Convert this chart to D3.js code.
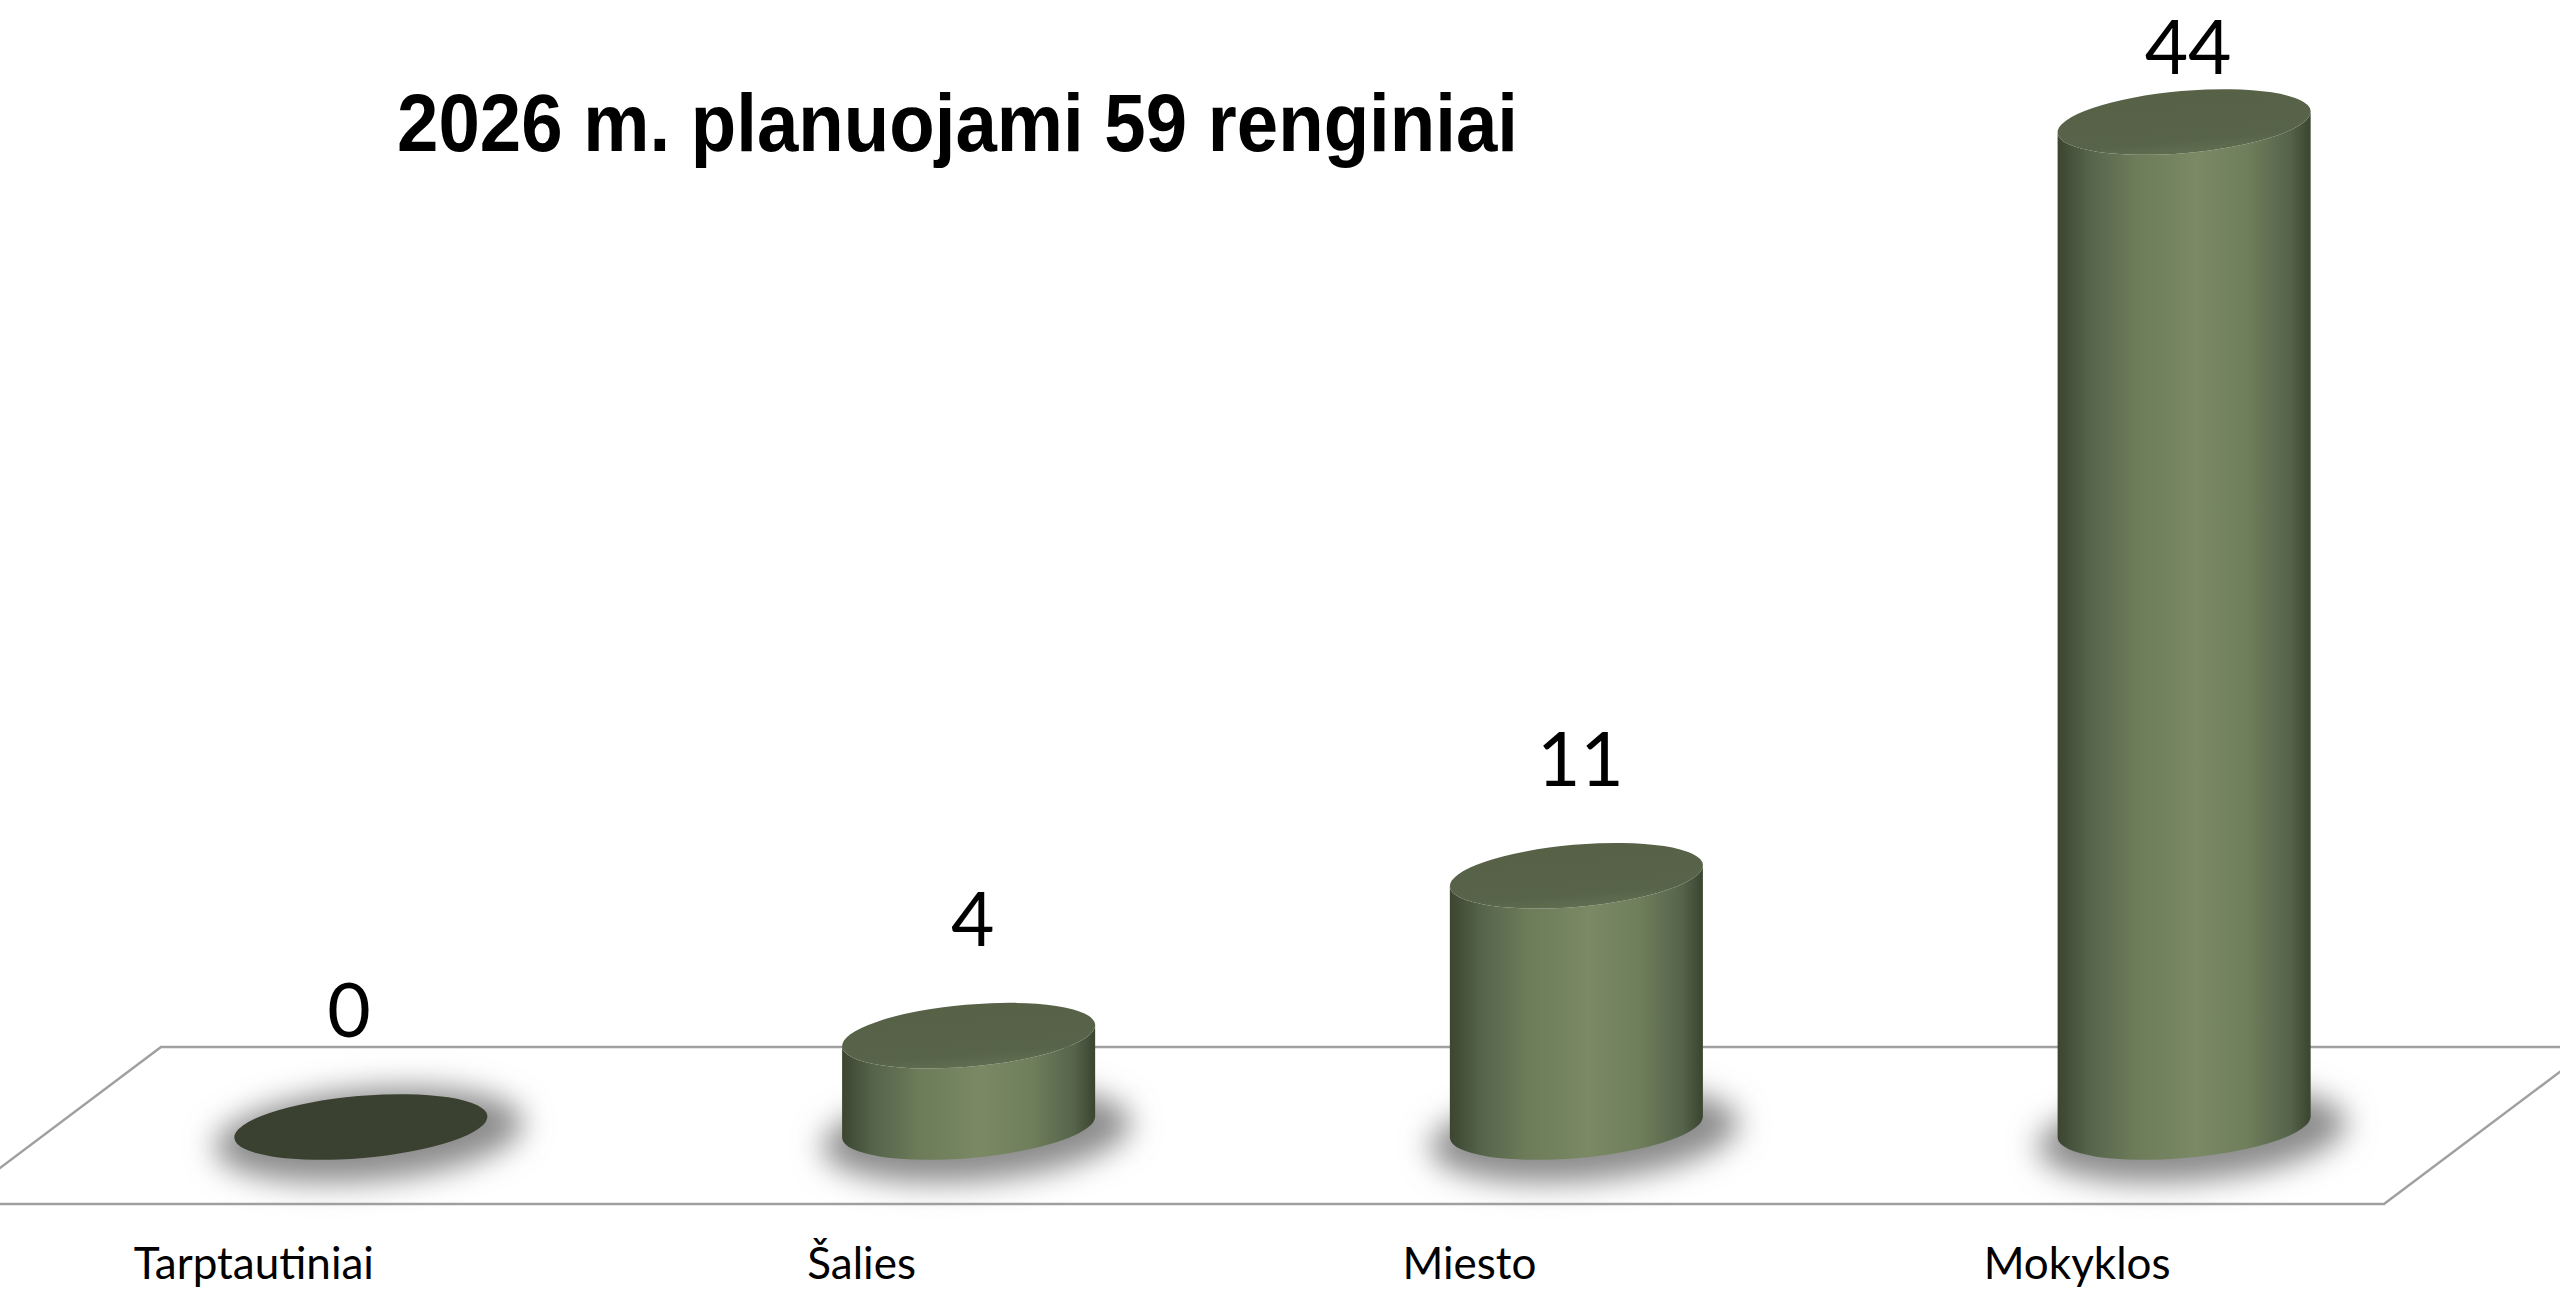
<html>
<head>
<title>2026 m. planuojami renginiai</title>
<script type="text/javascript" src="https://d3js.org/d3.v7.min.js"></script>
<style>
  body { margin: 0; background: #fff; }
</style>
</head>
<body>
<script type="text/javascript">
  var width = 2560;
  var height = 1291;

  var categories = ["Tarptautiniai", "Šalies", "Miesto", "Mokyklos"];
  var values = [0, 4, 11, 44];
  var title = "2026 m. planuojami 59 renginiai";

  var xScale = d3.scalePoint()
                 .domain(categories)
                 .range([57, 2488])
                 .padding(0.5);
  var yScale = d3.scaleLinear()
                 .domain([0, 44])
                 .range([1127, 122]);

  var rx = 127, ry = 31, tilt = -5;
  var rad = tilt * Math.PI / 180;

  var svg = d3.select("body")
              .append("svg")
              .attr("width", width)
              .attr("height", height)
              .style("background-color", "#ffffff");

  var defs = svg.append("defs");
  var sideGrad = defs.append("linearGradient")
                 .attr("id", "side")
                 .attr("x1", 0).attr("x2", 1).attr("y1", 0).attr("y2", 0);
  [[0, "#3b4530"], [0.12, "#55634a"], [0.3, "#6c7b58"], [0.55, "#7b8a65"],
   [0.75, "#6f7e5b"], [0.92, "#55634a"], [1, "#3a442f"]].forEach(function(s){
    sideGrad.append("stop").attr("offset", s[0]).attr("stop-color", s[1]);
  });
  var topGrad = defs.append("linearGradient")
                .attr("id", "top")
                .attr("x1", 0).attr("x2", 0).attr("y1", 0).attr("y2", 1);
  topGrad.append("stop").attr("offset", 0).attr("stop-color", "#566146");
  topGrad.append("stop").attr("offset", 0.8).attr("stop-color", "#58644a");
  topGrad.append("stop").attr("offset", 1).attr("stop-color", "#606d50");
  defs.append("filter")
      .attr("id", "blur")
      .attr("x", "-50%").attr("y", "-100%").attr("width", "200%").attr("height", "300%")
      .append("feGaussianBlur").attr("stdDeviation", 15);

  // floor
  var base = yScale(0);
  var backY = 1047, frontY = 1204, slant = 209;
  svg.append("polygon")
     .attr("points", [[161, backY], [2384 + slant, backY], [2384, frontY], [161 - slant, frontY]].join(" "))
     .attr("fill", "#ffffff")
     .attr("stroke", "#a0a0a0")
     .attr("stroke-width", 2.5);

  // category labels
  svg.append("g").selectAll("text")
     .data(categories)
     .enter().append("text")
     .attr("x", function(d){ return xScale(d) - 107; })
     .attr("y", 1279)
     .attr("text-anchor", "middle")
     .style("font-family", "Lato, 'Open Sans', sans-serif")
     .style("font-size", "44px")
     .style("fill", "#000")
     .text(function(d){ return d; });

  var data = categories.map(function(c, i){ return {cat: c, value: values[i]}; });

  // shadows
  svg.append("g").selectAll("ellipse")
     .data(data)
     .enter().append("ellipse")
     .attr("cx", function(d){ return xScale(d.cat) + 8; })
     .attr("cy", base + 8)
     .attr("rx", rx + 28)
     .attr("ry", ry + 15)
     .attr("transform", function(d){ return "rotate(" + tilt + "," + (xScale(d.cat) + 8) + "," + (base + 8) + ")"; })
     .attr("fill", "#8c8c8c")
     .attr("filter", "url(#blur)");

  var dx = rx * Math.cos(rad), dy = rx * Math.sin(rad);

  // cylinder sides
  svg.append("g").selectAll("path")
     .data(data.filter(function(d){ return d.value > 0; }))
     .enter().append("path")
     .attr("d", function(d){
       var cx = xScale(d.cat), yt = yScale(d.value);
       return "M" + (cx - dx) + "," + (yt - dy) +
              "L" + (cx - dx) + "," + (base - dy) +
              "A" + rx + "," + ry + " " + tilt + " 0 0 " + (cx + dx) + "," + (base + dy) +
              "L" + (cx + dx) + "," + (yt + dy) +
              "A" + rx + "," + ry + " " + tilt + " 0 1 " + (cx - dx) + "," + (yt - dy) + "Z";
     })
     .attr("fill", "url(#side)");

  // cylinder tops
  svg.append("g").selectAll("ellipse")
     .data(data)
     .enter().append("ellipse")
     .attr("cx", function(d){ return xScale(d.cat); })
     .attr("cy", function(d){ return yScale(d.value); })
     .attr("rx", rx)
     .attr("ry", ry)
     .attr("transform", function(d){ return "rotate(" + tilt + "," + xScale(d.cat) + "," + yScale(d.value) + ")"; })
     .attr("fill", function(d){ return d.value > 0 ? "url(#top)" : "#3a4130"; });

  // value labels
  svg.append("g").selectAll("text")
     .data(data)
     .enter().append("text")
     .attr("x", function(d, i){ return xScale(d.cat) + (i === 0 ? -12 : 4); })
     .attr("y", function(d){ return Math.max(74, yScale(d.value) - 90); })
     .attr("text-anchor", "middle")
     .style("font-family", "Lato, 'Open Sans', sans-serif")
     .style("font-size", "75px")
     .style("fill", "#000")
     .text(function(d){ return d.value; });

  // title
  svg.append("text")
     .attr("x", 397)
     .attr("y", 151)
     .attr("textLength", 1121)
     .attr("lengthAdjust", "spacingAndGlyphs")
     .style("font-family", "'Liberation Sans', Arial, sans-serif")
     .style("font-weight", "bold")
     .style("font-size", "82px")
     .style("fill", "#000")
     .text(title);
</script>
</body>
</html>
